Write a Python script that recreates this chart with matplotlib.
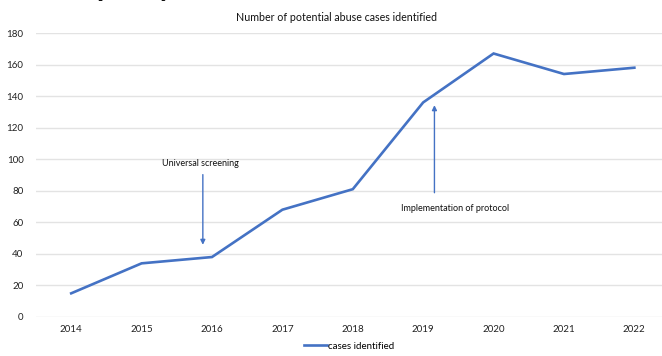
import matplotlib.pyplot as plt

plt.rcParams['font.family'] = ['Lato', 'DejaVu Sans']

years = ['2014', '2015', '2016', '2017', '2018', '2019', '2020', '2021', '2022']
cases = [15, 34, 38, 68, 81, 136, 167, 154, 158]

line_color = '#4472C4'

fig = plt.figure(figsize=(6.62, 3.56), dpi=100)
ax = fig.add_axes([0.0544, 0.1096, 0.957, 0.7977])

x = list(range(len(years)))
ax.plot(x, cases, color=line_color, lw=1.9, label='cases identified', solid_joinstyle='miter')

ax.set_xlim(-0.5, len(years) - 0.5)
ax.set_ylim(0, 180)
ax.set_yticks(range(0, 181, 20))
ax.set_xticks(x)
ax.set_xticklabels(years)
ax.tick_params(length=0, labelsize=7, colors='#222222', pad=6)
ax.tick_params(axis='y', pad=9)
ax.grid(axis='y', color='#e3e3e3', lw=1)
ax.set_axisbelow(True)
for s in ax.spines.values():
    s.set_visible(False)

# annotations
ax.annotate('', xy=(1.87, 44), xytext=(1.87, 92),
            arrowprops=dict(arrowstyle='-|>', color=line_color, lw=1, mutation_scale=7))
ax.text(1.83, 97, 'Universal screening', ha='center', va='center', fontsize=6.5, color='#111111')

ax.annotate('', xy=(5.16, 136), xytext=(5.16, 77),
            arrowprops=dict(arrowstyle='-|>', color=line_color, lw=1, mutation_scale=7))
ax.text(5.45, 69, 'Implementation of protocol', ha='center', va='center', fontsize=6.5, color='#111111')

fig.text(0.509, 0.952, 'Number of potential abuse cases identified', ha='center', va='center',
         fontsize=7.7, color='#111111')
# slide heading cut off at the top
fig.text(0.145, 1.012, 'policy', ha='left', va='baseline', fontsize=21, fontweight='bold', color='#111111')

fig.legend(loc='lower center', bbox_to_anchor=(0.527, -0.01), frameon=False, fontsize=7,
           handlelength=2.4, handletextpad=0.05)

fig.savefig('out.png', dpi=100)
